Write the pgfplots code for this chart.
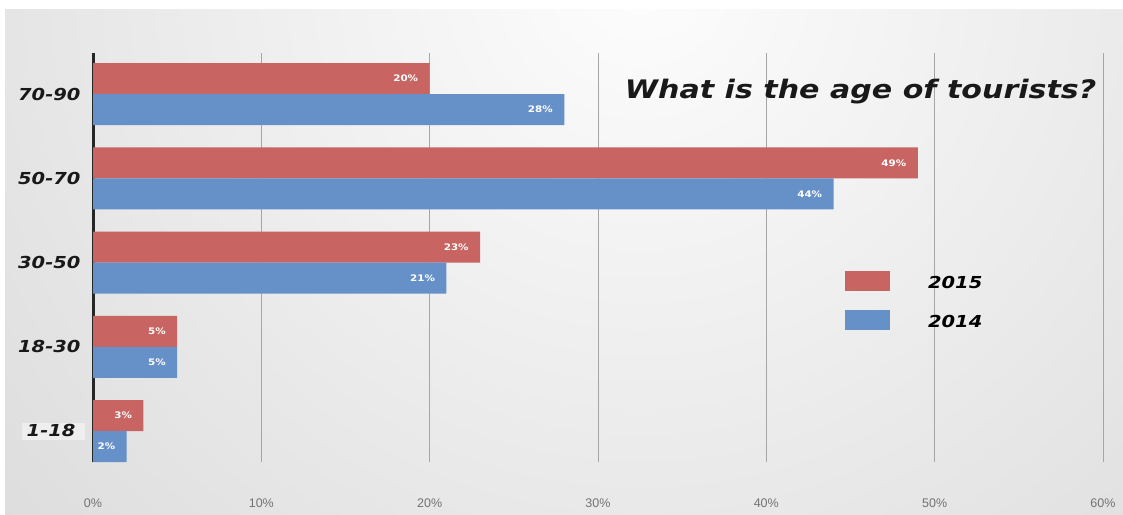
\documentclass[border=0pt]{standalone}
\usepackage{pgfplots}
\pgfplotsset{compat=1.18}
\usepackage{fontspec}
\setmainfont{DejaVu Sans}
\newfontfamily\bifont{DejaVu Sans Bold Oblique}[FakeStretch=1.18]
\newfontfamily\bbfont{DejaVu Sans Bold}[FakeStretch=1.15]
\newfontfamily\tickfont{Liberation Sans}
\definecolor{cred}{RGB}{200,100,98}
\definecolor{cblue}{RGB}{102,144,200}
\definecolor{lblbox}{RGB}{238,238,238}
\begin{document}
\begin{tikzpicture}
\useasboundingbox (0pt,0pt) rectangle (1123pt,514pt);
\fill[white] (0pt,0pt) rectangle (1123pt,514pt);
\begin{scope}
\clip (5pt,0pt) rectangle (1123pt,504pt);
\shade[inner color={rgb,255:red,253;green,253;blue,253}, outer color={rgb,255:red,196;green,196;blue,196}] (640pt,540pt) circle (1500pt);
\end{scope}
\begin{axis}[
  at={(93pt,83pt)}, anchor=origin,
  scale only axis, width=1010pt, height=409pt,
  xmin=0, xmax=60, ymin=-0.368, ymax=4.487,
  xbar, bar width=31pt,
  ytick={0,1,2,3,4},
  yticklabels={{\setlength{\fboxsep}{0pt}\colorbox{lblbox}{\kern5pt\rule[-3pt]{0pt}{17pt}1-18\kern10pt}\kern-5pt\relax},18-30,30-50,50-70,70-90},
  xtick={0,10,20,30,40,50,60},
  xticklabel={\pgfmathprintnumber{\tick}\%},
  /pgf/number format/assume math mode=true,
  xticklabel style={font=\tickfont\fontsize{12.5}{14}\selectfont, text=black!55, yshift=-33pt},
  yticklabel style={font=\bifont\fontsize{16.5}{18}\selectfont, text=black!90, xshift=-9pt},
  axis x line*=bottom, axis y line*=left,
  x axis line style={draw=none},
  y axis line style={line width=3pt, color=black!85, -},
  major tick length=0pt,
  xmajorgrids, major grid style={black!35, line width=0.7pt},
  point meta=x,
  nodes near coords={\pgfmathprintnumber{\pgfplotspointmeta}\%},
  every node near coord/.append style={font=\bbfont\fontsize{9}{10}\selectfont, text=white, anchor=east, xshift=-8pt},
  legend style={at={(axis cs:44.67,1.896)}, anchor=north west, draw=none, fill=none, inner sep=0pt, row sep=19pt, column sep=38pt, nodes={inner sep=0pt}, font=\bifont\fontsize{16.5}{18}\selectfont},
  legend cell align=left,
  legend image code/.code={\fill[#1,draw=none] (0pt,-8pt) rectangle (45pt,12pt);},
]
\addplot[fill=cred, draw=none, bar shift=15.5pt] coordinates {(3,0) (5,1) (23,2) (49,3) (20,4)};
\addplot[fill=cblue, draw=none, bar shift=-15.5pt] coordinates {(2,0) (5,1) (21,2) (44,3) (28,4)};
\legend{2015,2014}
\node[anchor=east, font=\bifont\fontsize{25.5}{30}\selectfont, text=black!90] at (rel axis cs:0.997,0.905) {What is the age of tourists?};
\end{axis}
\end{tikzpicture}
\end{document}
